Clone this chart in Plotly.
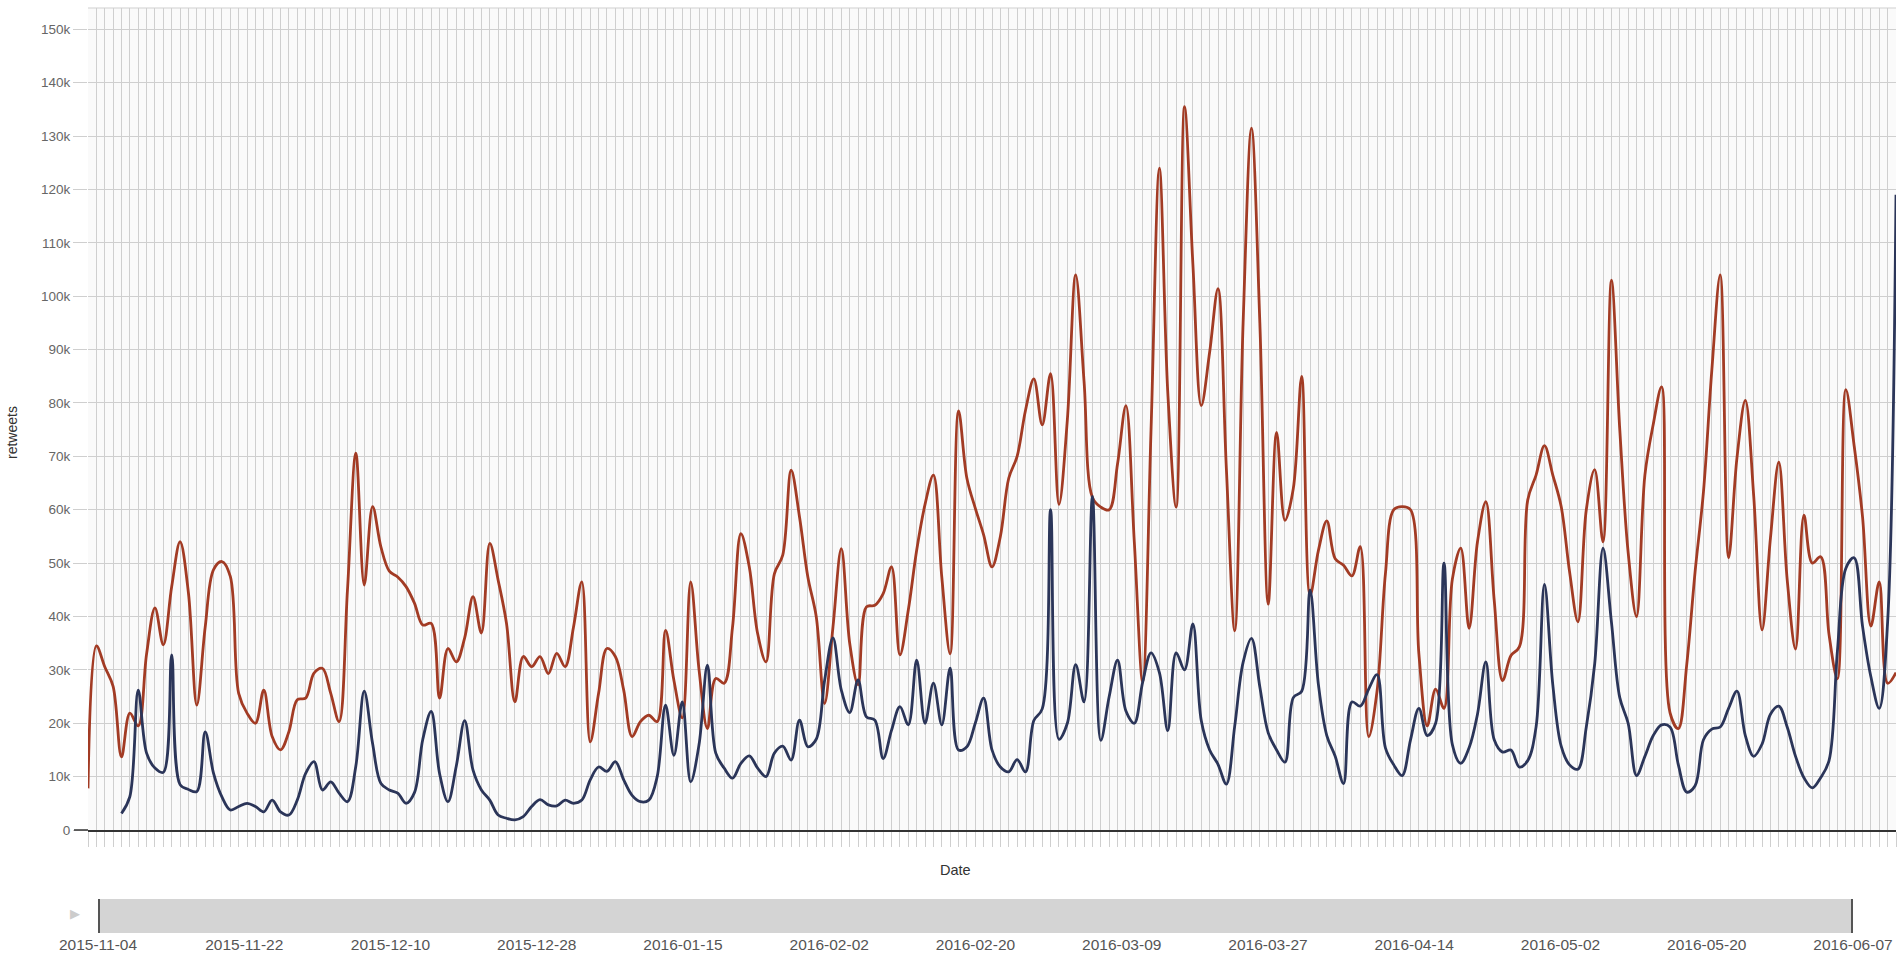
import pandas as pd
import plotly.graph_objects as go

# ---- data ----
start_date = "2015-11-04"
end_date = "2016-06-07"
dates = pd.date_range(start_date, end_date, freq="D")

red_values = [
    7.8, 34.5, 30.6, 26.9, 13.7, 21.9, 19.5, 33, 41.6, 34.7,
    45.6, 54, 44.4, 23.4, 38, 48.8, 50.3, 47.5, 25.6, 21.9,
    20, 26.2, 17.5, 15, 18.4, 24.4, 24.7, 29.4, 30.3, 25.6,
    20.3, 45, 70.6, 45.9, 60.6, 53, 48.5, 47.4, 45.6, 42.5,
    38.4, 38.7, 24.7, 34, 31.5, 36, 43.7, 36.9, 53.7, 46.8,
    38.7, 24, 32.5, 30.6, 32.5, 29.3, 33.1, 30.6, 38, 46.5,
    16.5, 25.6, 34, 32.5, 26.2, 17.5, 20.3, 21.5, 20.3, 37.4,
    28, 21, 46.5, 30, 19, 28.4, 27.5, 38, 55.5, 49.3,
    36.8, 31.5, 48, 51.5, 67.4, 58.7, 47.4, 40, 23.7, 38,
    52.7, 35, 27.2, 41.8, 42.1, 44.3, 49.3, 32.8, 41.2, 52.4,
    61, 66.5, 47.4, 33, 78.5, 65.9, 60.3, 55.3, 49.3, 55,
    65.9, 70, 78.6, 84.5, 75.9, 85.5, 61, 76.8, 104, 84,
    62.3, 60.5, 60, 68.6, 79.5, 54, 27.7, 75, 124, 82,
    60.5, 135.5, 106, 79.5, 89.5, 101.4, 67.7, 37.3, 95, 131.5,
    95, 42.3, 74.5, 58, 64, 85, 44, 52.4, 57.9, 50.8,
    49.6, 47.6, 53.1, 17.5, 26, 48, 60, 60.6, 60, 33,
    19.5, 26.4, 22.8, 47, 52.8, 37.8, 54, 61.5, 43, 28,
    32.7, 34.3, 61.8, 66.5, 72, 66.5, 60.6, 48.4, 39, 60,
    67.5, 54, 103, 75, 52, 40, 66.5, 76, 83, 22,
    19, 31, 48.4, 63.4, 86.2, 104, 51, 69.7, 80.5, 62.6,
    37.5, 54.7, 68.9, 46.9, 33.9, 59, 50, 51.2, 36.6, 28.3,
    82.5, 72, 58.7, 38.2, 46.5, 27.5, 29.5,
]

navy_start_date = "2015-11-08"
navy_values = [
    3.1, 6.25, 26.2, 14.4, 11.6, 10.8, 32.8, 8.5, 7.6, 7.2,
    18.4, 10.6, 6.2, 3.75, 4.4, 5, 4.4, 3.4, 5.6, 3.4,
    2.8, 5.6, 10.6, 12.8, 7.5, 9, 6.9, 5.3, 12, 26,
    16.2, 8.7, 7.5, 6.9, 5, 7, 17, 22.2, 10.6, 5.3,
    12, 20.5, 11.2, 7.5, 5.6, 2.8, 2.2, 1.9, 2.5, 4.4,
    5.7, 4.7, 4.5, 5.6, 5, 5.6, 9.4, 11.8, 11, 12.8,
    9.4, 6.5, 5.3, 5.6, 10, 23.4, 14, 24, 9, 16,
    30.9, 14.4, 11.6, 9.7, 12.5, 13.9, 11.6, 10, 14.4, 15.7,
    13.1, 20.6, 15.6, 17, 28, 36, 26.2, 22, 28.1, 21.2,
    20.6, 13.4, 18.7, 23.1, 19.7, 31.8, 20, 27.5, 19.7, 30.3,
    15, 15.6, 20, 24.7, 15, 11.8, 10.9, 13.2, 10.9, 20.5,
    22.7, 60, 17, 20, 31, 24, 62.5, 16.8, 25, 31.8,
    22.3, 20, 27.7, 33.2, 29.5, 18.6, 33.2, 30, 38.6, 20.5,
    15, 12.3, 8.6, 19.5, 31.4, 35.9, 26.8, 18.2, 15, 12.7,
    24.8, 26, 45, 27.2, 17.7, 13.8, 8.7, 24, 23.2, 26.4,
    29.1, 15.4, 12.2, 10.2, 16.9, 22.8, 17.7, 20, 50, 16,
    12.5, 15.4, 21.7, 31.5, 16.9, 14.6, 15, 11.8, 13, 19.3,
    46, 27.2, 15.7, 12.2, 11.4, 19.3, 31.1, 52.8, 39, 24.8,
    20, 10.2, 13.8, 17.7, 19.7, 19.3, 12.2, 7.1, 8.3, 16.9,
    18.9, 19.3, 22.8, 26, 17.7, 13.8, 16.1, 21.7, 23.2, 19.3,
    13.8, 9.8, 7.9, 9.8, 13, 33.5, 49, 51, 38.2, 28.7,
    22.8, 39, 119,
]
navy_dates = pd.date_range(navy_start_date, end_date, freq="D")

y_tick_values = [0, 10000, 20000, 30000, 40000, 50000, 60000, 70000,
                 80000, 90000, 100000, 110000, 120000, 130000, 140000, 150000]
y_tick_labels = ["0", "10k", "20k", "30k", "40k", "50k", "60k", "70k",
                 "80k", "90k", "100k", "110k", "120k", "130k", "140k", "150k"]
brush_tick_dates = list(dates[::18])
brush_tick_labels = [d.strftime("%Y-%m-%d") for d in brush_tick_dates]

y_title = "retweets"
x_title = "Date"

RED = "#a23b24"
NAVY = "#2b3559"
GRID = "#cfcfcf"
FONT = "Liberation Sans, Arial, Helvetica, sans-serif"

fig = go.Figure()
fig.add_trace(go.Scatter(
    x=dates, y=[v * 1000 for v in red_values], mode="lines",
    line=dict(color=RED, width=2.8, shape="spline", smoothing=1),
    showlegend=False, xaxis="x", yaxis="y",
))
fig.add_trace(go.Scatter(
    x=navy_dates, y=[v * 1000 for v in navy_values], mode="lines",
    line=dict(color=NAVY, width=2.8, shape="spline", smoothing=1),
    showlegend=False, xaxis="x", yaxis="y",
))
# brush band
fig.add_trace(go.Scatter(
    x=[dates[0], dates[-1]], y=[1, 1], mode="lines", fill="tozeroy",
    fillcolor="#d4d4d4", line=dict(width=0, color="#d4d4d4"),
    showlegend=False, hoverinfo="skip", xaxis="x2", yaxis="y2",
))

W, H = 1901, 961
ml, mr, mt, mb = 88, 5, 8, 20
pw = W - ml - mr
ph = H - mt - mb

def py(y_px):
    return (H - mb - y_px) / ph

def px(x_px):
    return (x_px - ml) / pw

fig.update_layout(
    width=W, height=H,
    margin=dict(l=ml, r=mr, t=mt, b=mb, autoexpand=False),
    paper_bgcolor="white",
    plot_bgcolor="#fafafa",
    font=dict(family=FONT, size=14, color="#555"),
    xaxis=dict(
        domain=[0, 1], anchor="y",
        range=[dates[0], dates[-1]],
        type="date", tick0=dates[0], dtick=86400000,
        showgrid=True, gridcolor=GRID, gridwidth=1,
        ticks="outside", ticklen=15, tickcolor=GRID, tickwidth=1,
        showticklabels=False, zeroline=False,
        showline=True, linecolor="#333", linewidth=1.5,
        fixedrange=True,
    ),
    yaxis=dict(
        domain=[py(830), 1], anchor="x",
        range=[0, 154000],
        tickvals=y_tick_values, ticktext=y_tick_labels,
        showgrid=True, gridcolor=GRID, gridwidth=1,
        ticks="outside", ticklen=14, tickcolor=GRID,
        tickfont=dict(size=13.5, color="#666"),
        zeroline=False, showline=False,
    ),
    xaxis2=dict(
        domain=[px(98), px(1853)], anchor="y2",
        range=[dates[0], dates[-1]], type="date",
        tickvals=brush_tick_dates, ticktext=brush_tick_labels,
        ticks="",
        tickfont=dict(size=15.5, color="#555"),
        showgrid=False, zeroline=False, showline=False,
    ),
    yaxis2=dict(
        domain=[py(933), py(899)], anchor="x2", range=[0, 1],
        visible=False, fixedrange=True,
    ),
    shapes=[
        dict(type="line", xref="paper", yref="paper",
             x0=px(74), x1=0, y0=py(830), y1=py(830),
             line=dict(color="#333", width=1.5)),
        dict(type="line", xref="paper", yref="paper",
             x0=0, x1=1, y0=1, y1=1,
             line=dict(color=GRID, width=1)),
        dict(type="line", xref="x2", yref="y2 domain",
             x0=dates[0], x1=dates[0], y0=0, y1=1,
             line=dict(color="#555", width=4)),
        dict(type="line", xref="x2", yref="y2 domain",
             x0=dates[-1], x1=dates[-1], y0=0, y1=1,
             line=dict(color="#555", width=4)),
    ],
    annotations=[
        dict(text=y_title, xref="paper", yref="paper",
             x=px(12), y=py(433), textangle=-90, showarrow=False,
             font=dict(size=14, color="#333"), xanchor="center", yanchor="middle"),
        dict(text=x_title, xref="paper", yref="paper",
             x=px(955), y=py(870), showarrow=False,
             font=dict(size=14.5, color="#333"), xanchor="center", yanchor="middle"),
        dict(text="\u25B6", xref="paper", yref="paper",
             x=px(75), y=py(913), showarrow=False,
             font=dict(size=13, color="#cccccc"), xanchor="center", yanchor="middle"),
    ],
)

fig.write_html(
    "out.html",
    config={"displayModeBar": False},
    post_script="document.body.style.margin='0';document.body.style.overflow='hidden';",
)
